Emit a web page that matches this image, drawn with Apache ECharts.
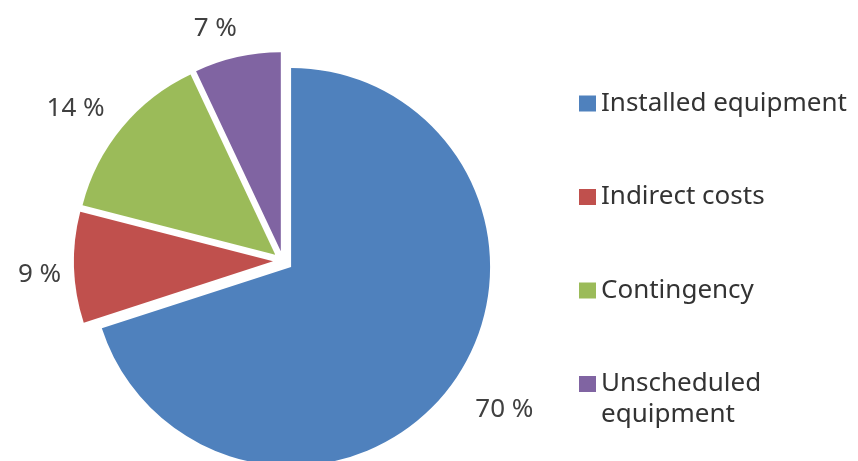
<!DOCTYPE html>
<html><head><meta charset="utf-8">
<script src="https://cdn.jsdelivr.net/npm/echarts@6/dist/echarts.min.js"></script>
<style>html,body{margin:0;padding:0;background:#fff}#c{width:858px;height:461px}</style>
</head><body><div id="c"></div>
<script>
const categories = ['Installed equipment', 'Indirect costs', 'Contingency', 'Unscheduled equipment'];
const values = [70, 9, 14, 7];
const colors = ['#4F81BD', '#C0504D', '#9BBB59', '#8064A2'];
const legendLabels = ['Installed equipment', 'Indirect costs', 'Contingency', '\u00a0\nUnscheduled\nequipment'];
const labelShift = [[-2, 11], [17, 6], [7, -3], [10, -4]];

const LH = 31;
const chart = echarts.init(document.getElementById('c'), null, {renderer: 'canvas'});
chart.setOption({
  animation: false,
  backgroundColor: '#fff',
  legend: {
    orient: 'vertical',
    left: 579,
    top: 57,
    padding: 0,
    itemGap: 0.5,
    itemWidth: 17,
    itemHeight: 16,
    icon: 'rect',
    selectedMode: false,
    textStyle: {fontFamily: 'Noto Sans', fontSize: 26, color: '#333', lineHeight: LH},
    formatter: function (name) { return legendLabels[categories.indexOf(name)]; },
    data: categories.map(function (n, i) {
      return {name: n, textStyle: {padding: i === categories.length - 1 ? [0, 0, 0, 0] : [LH, 0, LH, 0]}};
    })
  },
  series: [{
    type: 'pie',
    center: [283, 261],
    radius: 199,
    startAngle: 90,
    clockwise: true,
    selectedMode: 'multiple',
    selectedOffset: 10,
    avoidLabelOverlap: false,
    silent: true,
    label: {
      show: true,
      position: 'outside',
      formatter: '{c} %',
      fontFamily: 'Noto Sans',
      fontSize: 26,
      color: '#404040',
      distanceToLabelLine: 5,
      overflow: 'none'
    },
    labelLine: {show: false, length: 25, length2: 0},
    labelLayout: function (p) {
      const s = labelShift[p.dataIndex];
      return {dx: s[0], dy: s[1]};
    },
    itemStyle: {borderWidth: 0},
    select: {itemStyle: {borderWidth: 0}},
    emphasis: {disabled: true},
    data: categories.map(function (n, i) {
      return {name: n, value: values[i], selected: true, itemStyle: {color: colors[i]}};
    })
  }]
});
</script></body></html>
